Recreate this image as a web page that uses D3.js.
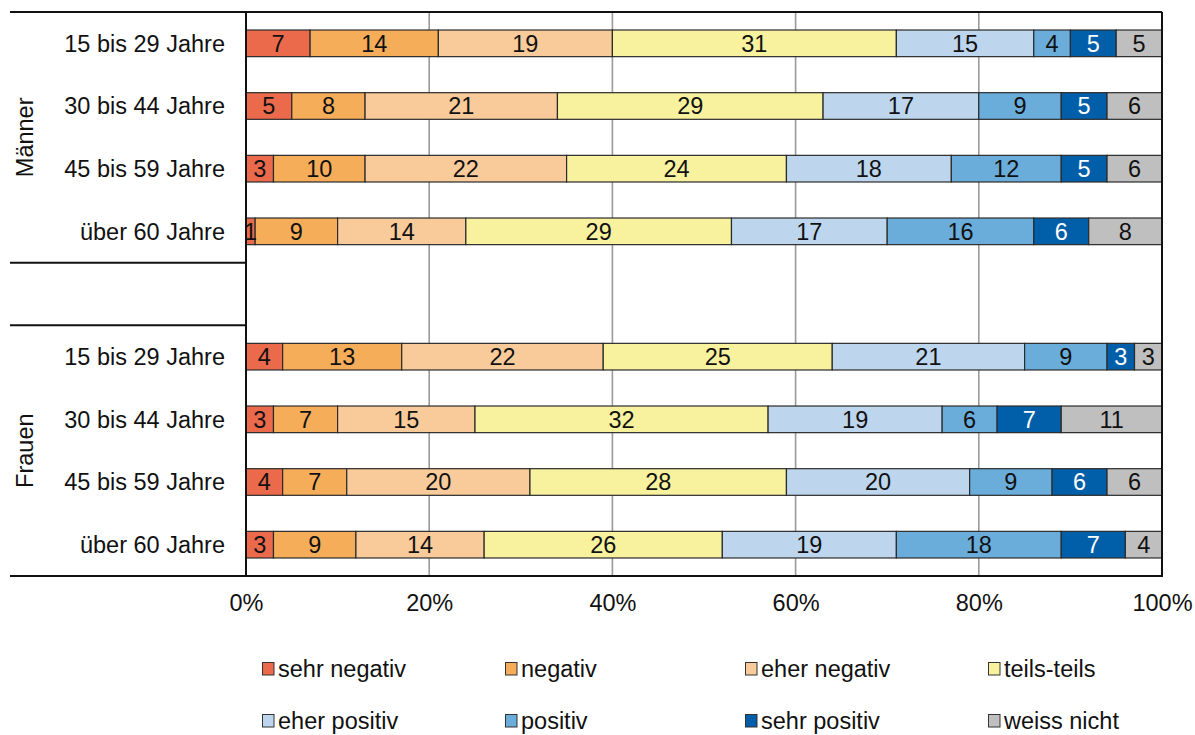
<!DOCTYPE html>
<html>
<head>
<meta charset="utf-8">
<script src="https://cdn.jsdelivr.net/npm/d3@7"></script>
<style>
  html, body { margin: 0; padding: 0; background: #fff; }
  svg { display: block; font-family: "Liberation Sans", Arial, sans-serif; }
</style>
</head>
<body>
<svg id="chart" width="1195" height="735"></svg>
<script>
// Age groups per gender block (top to bottom)
const groups = ["Männer", "Frauen"];
const ageGroups = ["15 bis 29 Jahre", "30 bis 44 Jahre", "45 bis 59 Jahre", "über 60 Jahre"];

// Answer categories (stack order, left to right)
const categories = ["sehr negativ", "negativ", "eher negativ", "teils-teils",
                    "eher positiv", "positiv", "sehr positiv", "weiss nicht"];
const colors = ["#EB6A4B", "#F5AD59", "#F9CB9B", "#F8F29F",
                "#BDD6EE", "#6AADDA", "#015EA8", "#BFBFBF"];

// Percentages per category; first four entries Männer, last four Frauen
const sehrNegativ = [7, 5, 3, 1, 4, 3, 4, 3];
const negativ     = [14, 8, 10, 9, 13, 7, 7, 9];
const eherNegativ = [19, 21, 22, 14, 22, 15, 20, 14];
const teilsTeils  = [31, 29, 24, 29, 25, 32, 28, 26];
const eherPositiv = [15, 17, 18, 17, 21, 19, 20, 19];
const positiv     = [4, 9, 12, 16, 9, 6, 9, 18];
const sehrPositiv = [5, 5, 5, 6, 3, 7, 6, 7];
const weissNicht  = [5, 6, 6, 8, 3, 11, 6, 4];

const tickValues = [0, 20, 40, 60, 80, 100];

const seriesValues = [sehrNegativ, negativ, eherNegativ, teilsTeils,
                      eherPositiv, positiv, sehrPositiv, weissNicht];

// Row keys: four Männer rows, an empty spacer, four Frauen rows
const rows = [];
groups.forEach((g, gi) => {
  ageGroups.forEach((a, ai) => rows.push({ key: g + "|" + a, group: g, age: a, idx: gi * 4 + ai }));
});
const slotKeys = rows.slice(0, 4).map(r => r.key).concat(["gap"], rows.slice(4).map(r => r.key));

const svg = d3.select("#chart");
const plotLeft = 246, plotRight = 1162, plotTop = 12, plotBottom = 576;
const fontSize = 23.5;

const x = d3.scaleLinear().domain([0, 100]).range([plotLeft, plotRight]);
const y = d3.scaleBand().domain(slotKeys).range([plotTop, plotBottom]).paddingInner(0).paddingOuter(0);
const barH = y.bandwidth() * 0.425;

// Vertical gridlines
svg.append("g")
  .selectAll("line")
  .data(tickValues.filter(t => t > 0 && t < 100))
  .join("line")
  .attr("x1", d => x(d)).attr("x2", d => x(d))
  .attr("y1", plotTop).attr("y2", plotBottom)
  .attr("stroke", "#9a9a9a").attr("stroke-width", 1.6);

// Stacked segments
const stackRows = rows.map(r => {
  let cum = 0;
  return categories.map((c, ci) => {
    const v = seriesValues[ci][r.idx];
    const seg = { row: r, ci, v, x0: cum, x1: cum + v };
    cum += v;
    return seg;
  });
});

const segs = stackRows.flat();
const barY = d => y(d.row.key) + (y.bandwidth() - barH) / 2;

svg.append("g")
  .selectAll("rect")
  .data(segs)
  .join("rect")
  .attr("x", d => x(d.x0))
  .attr("y", barY)
  .attr("width", d => x(d.x1) - x(d.x0))
  .attr("height", barH)
  .attr("fill", d => colors[d.ci])
  .attr("stroke", "#2b2b2b")
  .attr("stroke-width", 1.2);

svg.append("g")
  .selectAll("text")
  .data(segs)
  .join("text")
  .attr("x", d => x((d.x0 + d.x1) / 2))
  .attr("y", d => y(d.row.key) + y.bandwidth() / 2)
  .attr("dy", "0.36em")
  .attr("text-anchor", "middle")
  .attr("font-size", fontSize)
  .attr("fill", d => d.ci === 6 ? "#ffffff" : "#111111")
  .text(d => d.v);

// Frame lines
const frame = svg.append("g").attr("stroke", "#111").attr("stroke-width", 2).attr("fill", "none");
frame.append("line").attr("x1", 10).attr("x2", plotRight).attr("y1", plotTop).attr("y2", plotTop);
frame.append("line").attr("x1", 10).attr("x2", plotRight + 1).attr("y1", plotBottom).attr("y2", plotBottom);
frame.append("line").attr("x1", plotRight).attr("x2", plotRight).attr("y1", plotTop).attr("y2", plotBottom);
frame.append("line").attr("x1", plotLeft).attr("x2", plotLeft).attr("y1", plotTop).attr("y2", plotBottom);
// Separators around the spacer slot
frame.append("line").attr("x1", 10).attr("x2", plotLeft).attr("y1", y("gap")).attr("y2", y("gap"));
frame.append("line").attr("x1", 10).attr("x2", plotLeft)
  .attr("y1", y("gap") + y.bandwidth()).attr("y2", y("gap") + y.bandwidth());

// Age labels
svg.append("g")
  .selectAll("text")
  .data(rows)
  .join("text")
  .attr("x", 225)
  .attr("y", d => y(d.key) + y.bandwidth() / 2)
  .attr("dy", "0.36em")
  .attr("text-anchor", "end")
  .attr("font-size", fontSize)
  .attr("fill", "#111")
  .text(d => d.age);

// Gender labels, rotated
groups.forEach(g => {
  const keys = rows.filter(r => r.group === g).map(r => r.key);
  const cy = (y(keys[0]) + y(keys[keys.length - 1]) + y.bandwidth()) / 2;
  svg.append("text")
    .attr("transform", `translate(25,${cy}) rotate(-90)`)
    .attr("dy", "0.36em")
    .attr("text-anchor", "middle")
    .attr("font-size", fontSize)
    .attr("fill", "#111")
    .text(g);
});

// X axis tick labels
const xAxis = d3.axisBottom(x).tickValues(tickValues).tickSize(0).tickPadding(18)
  .tickFormat(d => d + "%");
const ax = svg.append("g").attr("transform", `translate(0,${plotBottom})`).call(xAxis);
ax.select(".domain").remove();
ax.selectAll("text").attr("font-size", fontSize).attr("fill", "#111")
  .attr("font-family", "\"Liberation Sans\", Arial, sans-serif");

// Legend: two rows of four entries
const legendCols = [262, 505, 745, 988];
const legendRows = [669, 721];
const legend = svg.append("g")
  .selectAll("g")
  .data(categories)
  .join("g")
  .attr("transform", (d, i) => `translate(${legendCols[i % 4]},${legendRows[Math.floor(i / 4)]})`);
legend.append("rect")
  .attr("x", 0.5).attr("y", -6.5).attr("width", 11.5).attr("height", 12.5)
  .attr("fill", (d, i) => colors[i])
  .attr("stroke", "#333").attr("stroke-width", 1);
legend.append("text")
  .attr("x", 16).attr("dy", "0.36em")
  .attr("font-size", fontSize).attr("fill", "#111")
  .text(d => d);
</script>
</body>
</html>
